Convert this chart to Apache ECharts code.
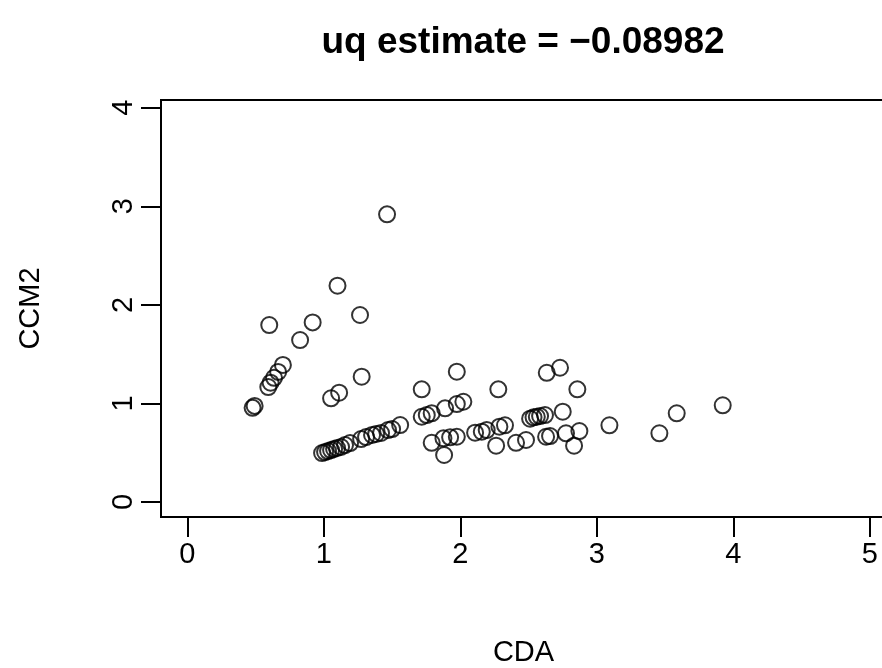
<!DOCTYPE html>
<html>
<head>
<meta charset="utf-8">
<script src="https://cdn.jsdelivr.net/npm/echarts@6/dist/echarts.min.js"></script>
<style>html,body{margin:0;padding:0;background:#fff;}#c{width:882px;height:668px;}</style>
</head>
<body>
<div id="c"></div>
<script>
const titleText = 'uq estimate = \u22120.08982';
const xName = 'CDA';
const yName = 'CCM2';
const xTicks = [0, 1, 2, 3, 4, 5];
const yTicks = [0, 1, 2, 3, 4];
const cda = [
  0.478, 0.493, 0.593, 0.61, 0.635, 0.665, 0.70,
  0.60, 0.826, 0.918, 1.10, 1.265, 1.463, 1.277, 1.053, 1.112,
  0.987, 1.009, 1.031, 1.053, 1.075, 1.097, 1.126, 1.155, 1.192, 1.273, 1.309, 1.353, 1.383, 1.419, 1.47, 1.5, 1.559,
  1.717, 1.717, 1.754, 1.79, 1.79,
  1.888, 1.974, 1.974, 2.022,
  1.876, 1.925, 1.974, 1.881,
  2.108, 2.157, 2.193,
  2.278, 2.262, 2.286, 2.327,
  2.408, 2.481,
  2.511, 2.536, 2.56, 2.584, 2.62,
  2.633, 2.73, 2.75, 2.857,
  2.628, 2.657, 2.774, 2.872, 2.833,
  3.092, 3.458, 3.585, 3.922
];
const ccm2 = [
  0.955, 0.975, 1.166, 1.21, 1.26, 1.32, 1.39,
  1.795, 1.643, 1.822, 2.194, 1.897, 2.918, 1.271, 1.052, 1.109,
  0.497, 0.507, 0.517, 0.527, 0.538, 0.548, 0.558, 0.578, 0.598, 0.639, 0.659, 0.680, 0.690, 0.700, 0.730, 0.740, 0.781,
  1.143, 0.865, 0.882, 0.9, 0.601,
  0.95, 1.322, 0.994, 1.017,
  0.646, 0.656, 0.662, 0.477,
  0.703, 0.713, 0.730,
  1.143, 0.571, 0.764, 0.778,
  0.601, 0.629,
  0.845, 0.859, 0.865, 0.872, 0.882,
  1.311, 1.362, 0.916, 1.143,
  0.662, 0.669, 0.697, 0.72, 0.571,
  0.778, 0.697, 0.9, 0.981
];
const points = cda.map((x, i) => [x, ccm2[i]]);

const font = 'Liberation Sans, Arial, Helvetica, sans-serif';
const chart = echarts.init(document.getElementById('c'), null, {renderer: 'canvas'});
chart.setOption({
  animation: false,
  backgroundColor: '#fff',
  title: {
    text: titleText,
    left: 523,
    top: 24,
    padding: 0,
    textAlign: 'center',
    textStyle: {fontFamily: font, fontSize: 37, fontWeight: 'bold', color: '#000'}
  },
  grid: {
    left: 161, top: 100, width: 737, height: 417,
    containLabel: false,
    outerBoundsMode: 'none',
    show: true, borderColor: '#000', borderWidth: 2, backgroundColor: 'transparent'
  },
  xAxis: {
    type: 'value', min: -0.193, max: 5.206,
    name: xName, nameLocation: 'middle', nameGap: 121,
    nameTextStyle: {fontFamily: font, fontSize: 29, color: '#000', padding: [0, 12, 0, 0]},
    axisLine: {show: true, onZero: false, lineStyle: {color: '#000', width: 2}},
    axisTick: {show: true, inside: false, length: 20, customValues: xTicks, lineStyle: {color: '#000', width: 2}},
    axisLabel: {customValues: xTicks, fontFamily: font, fontSize: 29, color: '#000', margin: 23},
    splitLine: {show: false}
  },
  yAxis: {
    type: 'value', min: -0.152, max: 4.078,
    name: yName, nameLocation: 'middle', nameGap: 116, nameRotate: 90,
    nameTextStyle: {fontFamily: font, fontSize: 29, color: '#000'},
    axisLine: {show: true, onZero: false, lineStyle: {color: '#000', width: 2}},
    axisTick: {show: true, inside: false, length: 20, customValues: yTicks, lineStyle: {color: '#000', width: 2}},
    axisLabel: {customValues: yTicks, rotate: 90, fontFamily: font, fontSize: 29, color: '#000', margin: 23},
    splitLine: {show: false}
  },
  series: [{
    type: 'scatter',
    data: points,
    symbol: 'circle',
    symbolSize: 16,
    itemStyle: {color: 'rgba(0,0,0,0)', borderColor: '#000', borderWidth: 2},
    emphasis: {disabled: true}
  }]
});
</script>
</body>
</html>
